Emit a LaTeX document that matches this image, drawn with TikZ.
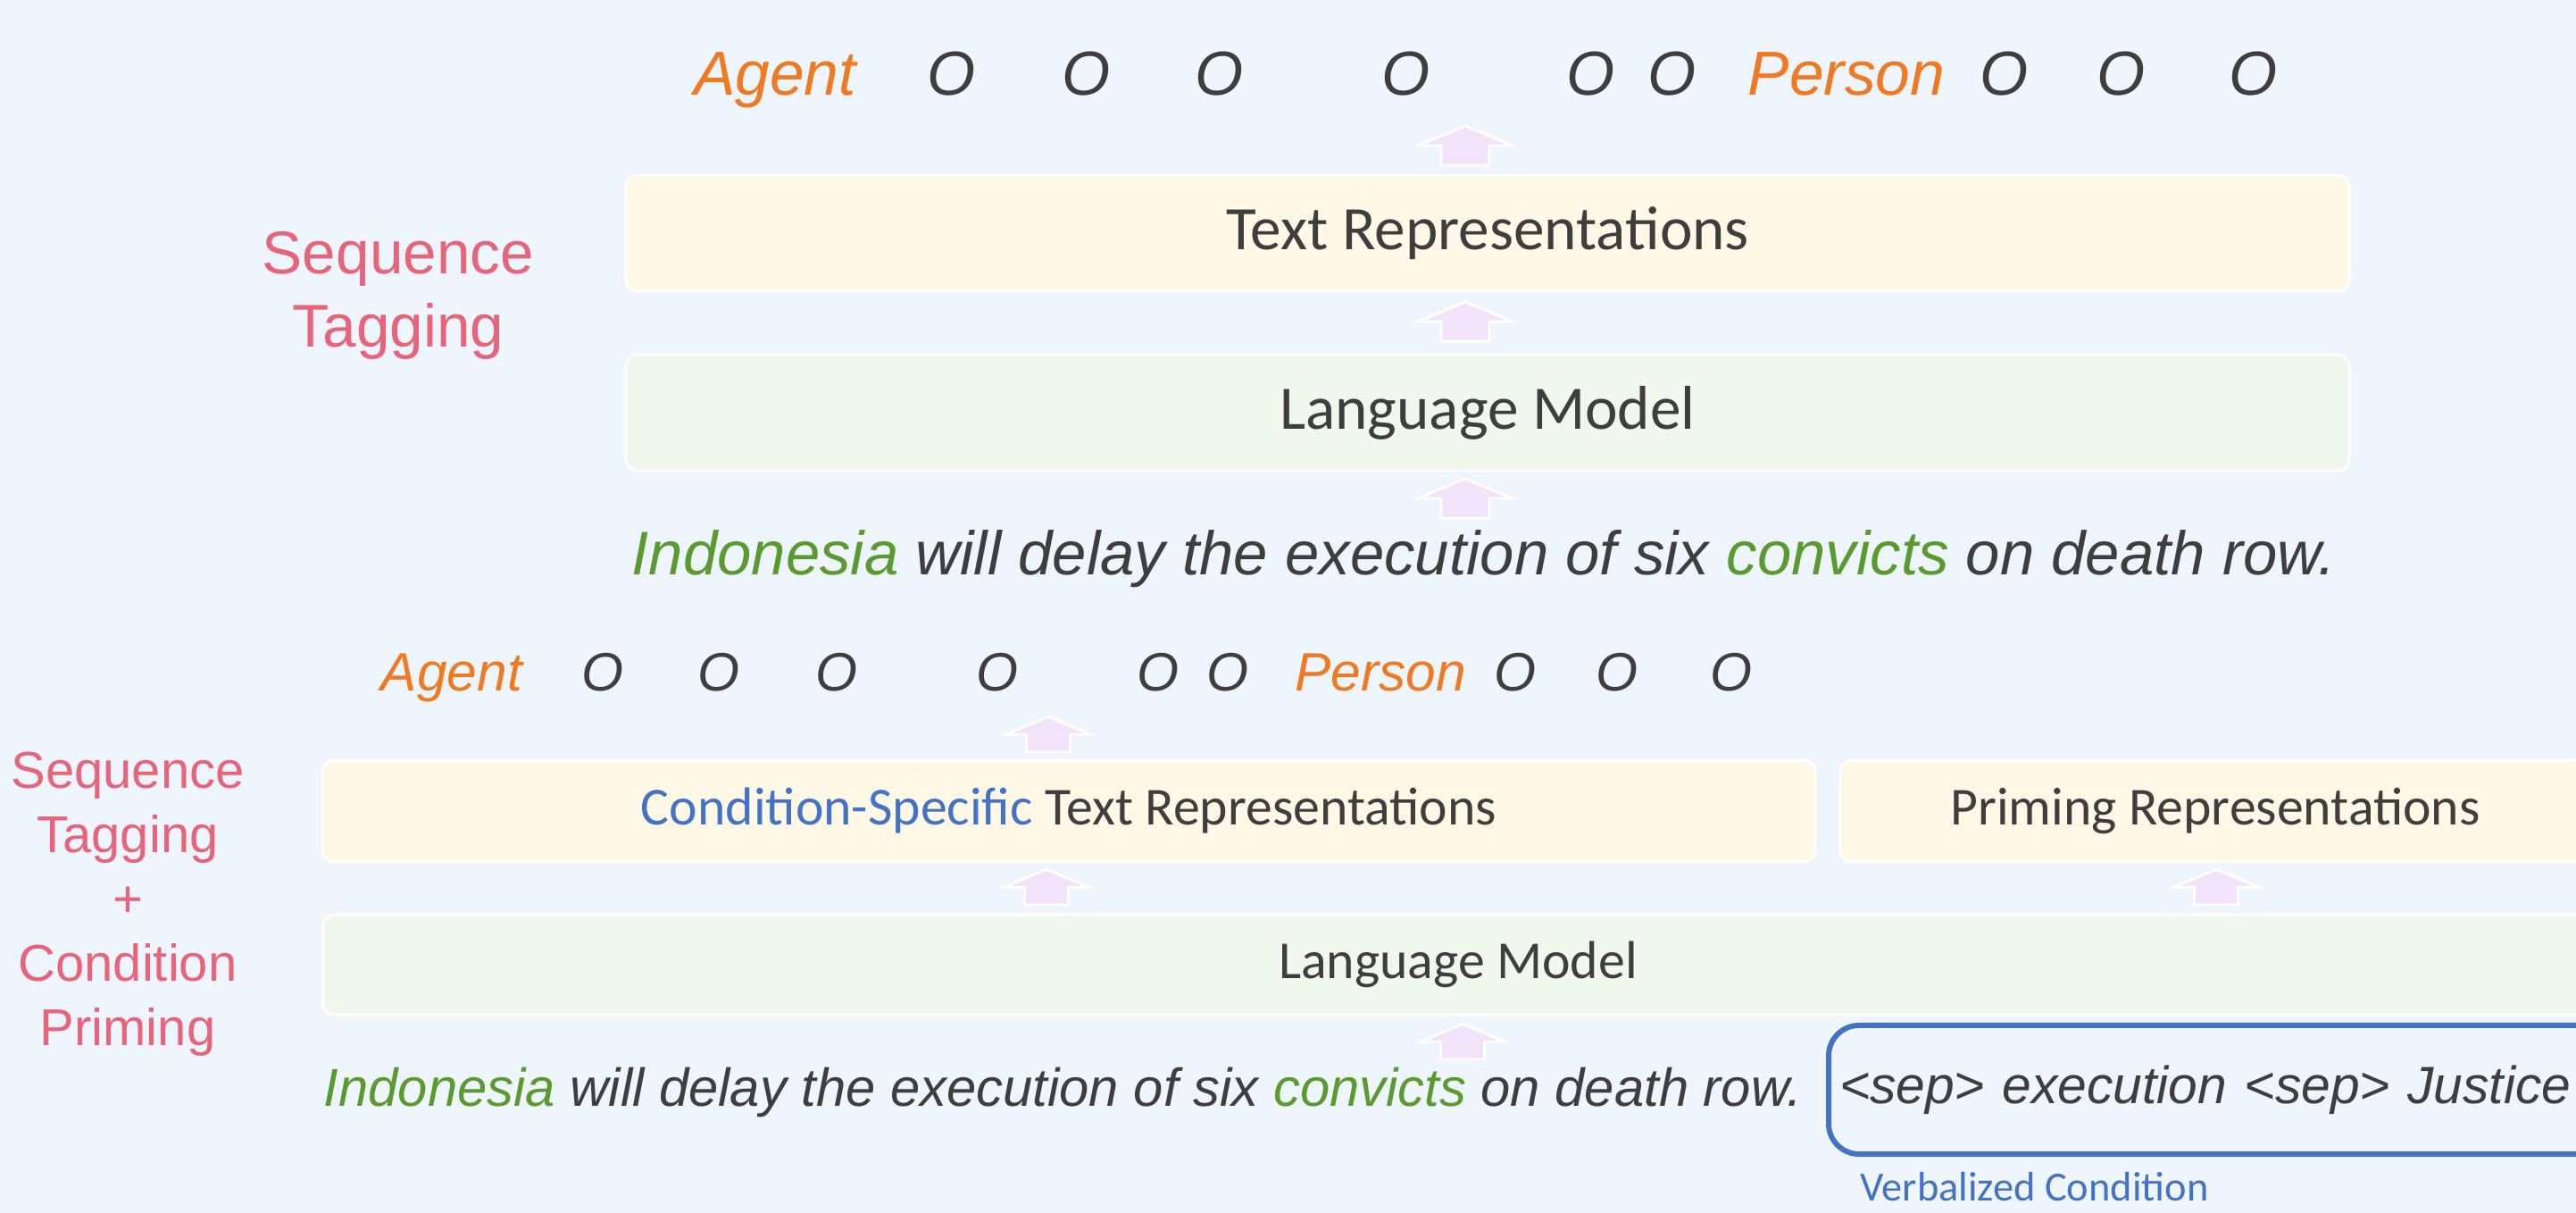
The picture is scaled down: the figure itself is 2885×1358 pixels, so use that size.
\documentclass[tikz,border=0pt]{standalone}
\usepackage{fontspec}
\setmainfont{Liberation Sans}
\newfontfamily\boxfont{Carlito}
\definecolor{bgblue}{HTML}{EEF5FD}
\definecolor{boxyellow}{HTML}{FFF8E6}
\definecolor{boxgreen}{HTML}{F0F7EC}
\definecolor{arrowpink}{HTML}{F2E3FA}
\definecolor{tagorange}{HTML}{F07A22}
\definecolor{wordgreen}{HTML}{5A9A2E}
\definecolor{darktext}{HTML}{3E3E3E}
\definecolor{labelpink}{HTML}{E8647A}
\definecolor{condblue}{HTML}{4472C4}
\tikzset{uparrow/.pic={
	\filldraw[fill=arrowpink, draw=white, line width=0.8pt]
		(-27,0) -- (-27,-22) -- (-53,-22) -- (0,-44) -- (53,-22) -- (27,-22) -- (27,0) -- cycle;
}}
\begin{document}
\begin{tikzpicture}[x=0.01cm, y=-0.01cm,
			tagword/.style={anchor=base, inner sep=0pt, font=\fontsize{19.8}{24}\selectfont\itshape, text=darktext},
			smalltag/.style={tagword, font=\fontsize{17.2}{21}\selectfont\itshape},
			ybox/.style={rectangle, rounded corners=0.13cm, draw=white, line width=0.8pt, fill=boxyellow,
				text=darktext, font=\boxfont\fontsize{19.7}{24}\selectfont},
			gbox/.style={ybox, fill=boxgreen},
			sentence/.style={anchor=base west, inner sep=0pt, text=darktext, font=\fontsize{19.6}{24}\selectfont\itshape},
			taskname/.style={align=center, text=labelpink}]

			\path[use as bounding box, fill=bgblue] (0,0) rectangle (2885,1358);

			% sequence tagging
			\node[tagword, text=tagorange] (agent) at (868,107) {Agent};
			\node[tagword] (o1) at (1066,107) {O};
			\node[tagword] (o2) at (1217,107) {O};
			\node[tagword] (o3) at (1366,107) {O};
			\node[tagword] (o4) at (1575,107) {O};
			\node[tagword] (o5) at (1782,107) {O};
			\node[tagword] (o6) at (1873,107) {O};
			\node[tagword, text=tagorange] (person) at (2068,107) {Person};
			\node[tagword] (o7) at (2245,107) {O};
			\node[tagword] (o8) at (2376,107) {O};
			\node[tagword] (o9) at (2524,107) {O};

			\node[ybox, minimum width=19.29cm, minimum height=1.30cm] (textrep) at (1666,261) {Text Representations};
			\node[gbox, minimum width=19.29cm, minimum height=1.30cm] (lm) at (1666,462) {Language Model};
			\node[sentence] (sent) at (707,643) {\textcolor{wordgreen}{Indonesia} will delay the execution of six \textcolor{wordgreen}{convicts} on death row.};

			\pic at (1641,185) {uparrow};
			\pic at (1641,382) {uparrow};
			\pic at (1641,580) {uparrow};

			\node[taskname, font=\fontsize{19.2}{23.3}\selectfont] (seqtag) at (446,331) {Sequence\\Tagging};

			% sequence tagging + condition priming
			\node[smalltag, text=tagorange] (agentb) at (506,773) {Agent};
			\node[smalltag] (ob1) at (675,773) {O};
			\node[smalltag] (ob2) at (805,773) {O};
			\node[smalltag] (ob3) at (937,773) {O};
			\node[smalltag] (ob4) at (1117,773) {O};
			\node[smalltag] (ob5) at (1297,773) {O};
			\node[smalltag] (ob6) at (1375,773) {O};
			\node[smalltag, text=tagorange] (personb) at (1546,773) {Person};
			\node[smalltag] (ob7) at (1697,773) {O};
			\node[smalltag] (ob8) at (1811,773) {O};
			\node[smalltag] (ob9) at (1939,773) {O};

			\node[ybox, font=\boxfont\fontsize{17}{21}\selectfont, minimum width=16.71cm, minimum height=1.14cm] (csrep) at (1197,908)
				{\textcolor{condblue}{Condition-Specific} Text Representations};
			\node[ybox, font=\boxfont\fontsize{17}{21}\selectfont, minimum width=8.40cm, minimum height=1.14cm] (primrep) at (2481,908)
				{Priming Representations};
			\node[gbox, font=\boxfont\fontsize{17}{21}\selectfont, minimum width=25.42cm, minimum height=1.12cm] (lmb) at (1633,1080) {Language Model};
			\node[sentence, font=\fontsize{17}{21}\selectfont\itshape] (sentb) at (362,1238)
				{\textcolor{wordgreen}{Indonesia} will delay the execution of six \textcolor{wordgreen}{convicts} on death row.};
			\node[draw=condblue, line width=1.7pt, rounded corners=0.34cm, anchor=west, minimum height=1.44cm, inner xsep=0.12cm,
				text width=8.8cm, align=left, text=darktext, font=\fontsize{16.7}{21}\selectfont\itshape] (verbcond) at (2045,1220)
				{<sep> execution <sep> Justice};
			\node[anchor=base west, inner sep=0pt, text=condblue, font=\boxfont\fontsize{13.2}{16}\selectfont] (verblabel) at (2083,1344) {Verbalized Condition};

			\pic[scale=0.9] at (1174,842) {uparrow};
			\pic[scale=0.9] at (1172,1013) {uparrow};
			\pic[scale=0.9] at (2482,1013) {uparrow};
			\pic[scale=0.9] at (1638,1186) {uparrow};

			\node[taskname, font=\fontsize{16.5}{20.5}\selectfont] (seqcond) at (143,1012) {Sequence\\Tagging\\+\\Condition\\Priming};
			\end{tikzpicture}
\end{document}
